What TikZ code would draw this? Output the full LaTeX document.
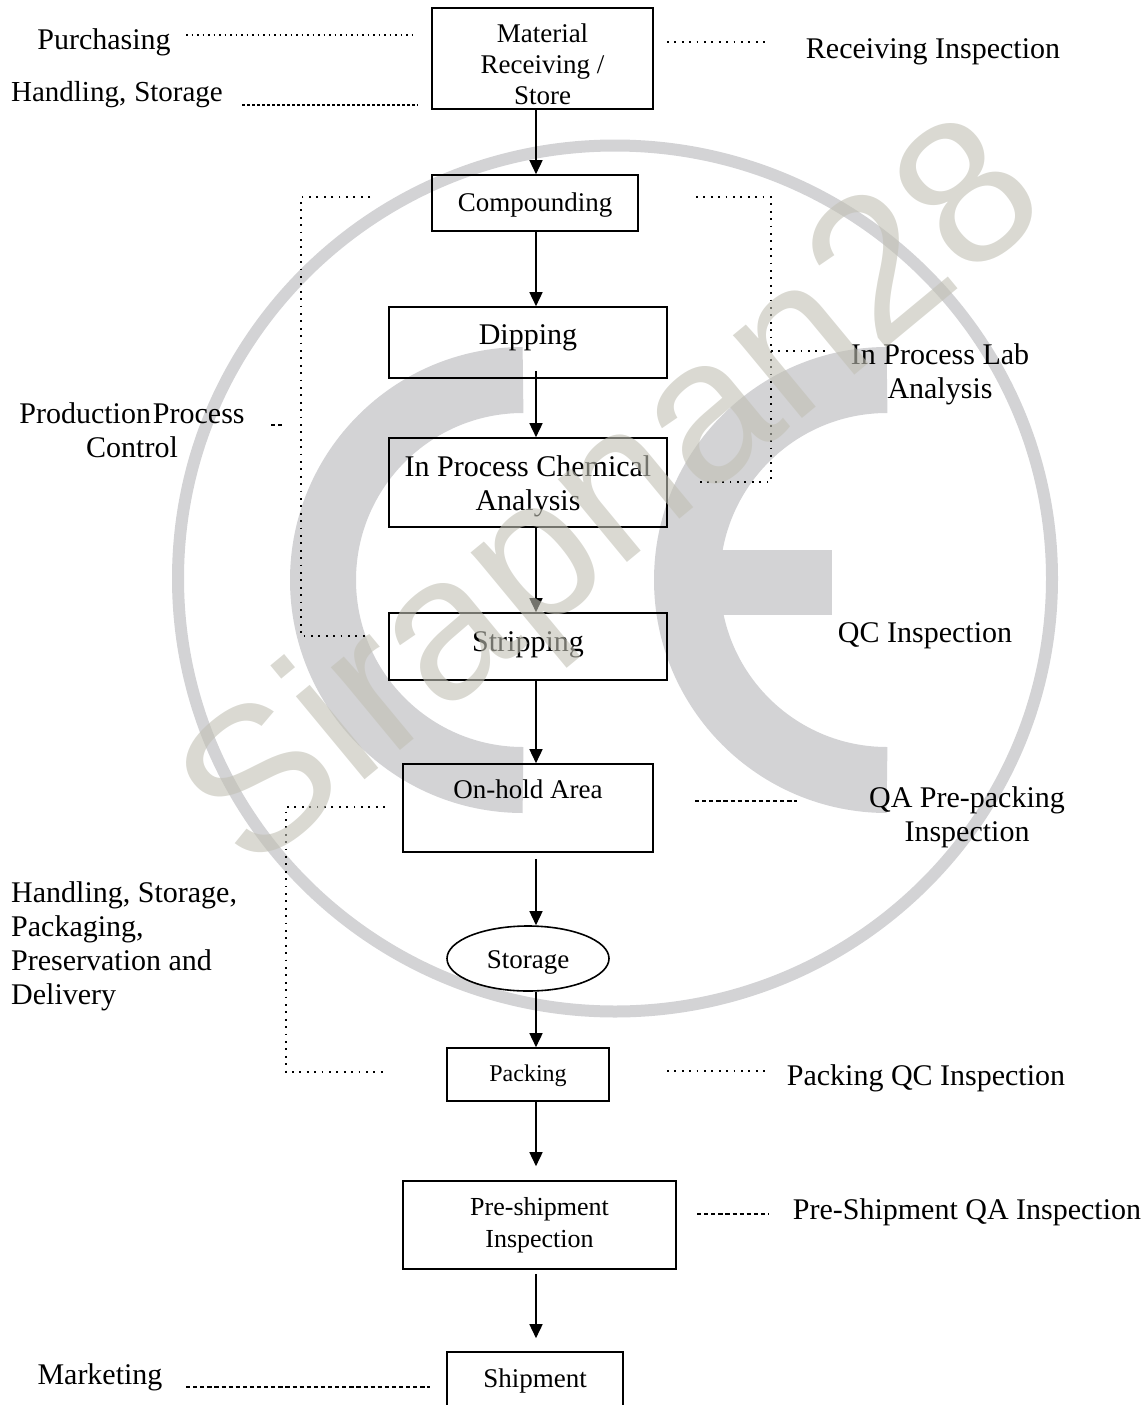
\documentclass[tikz,border=0pt]{standalone}
\usepackage{fontspec}
\setmainfont{Liberation Serif}
\newfontfamily\wmfont{Liberation Sans}
\usetikzlibrary{positioning,calc,shapes.geometric,arrows.meta}
\definecolor{wmgray}{RGB}{211,211,213}
\definecolor{wmtext}{RGB}{193,192,180}
\newcommand{\padtop}[1]{\rule{0pt}{#1}}
\newcommand{\padbot}[1]{\rule[-#1]{0pt}{1pt}}
\tikzset{
    flowchart/.style={
        x=1pt, y=-1pt,
        % Stile per i blocchi del processo
        procbox/.style={draw, line width=1.6pt, rectangle, align=center,
                        inner sep=0pt, font=\fontsize{27}{32}\selectfont},
        procoval/.style={draw, line width=1.6pt, ellipse, align=center,
                        inner sep=0pt, font=\fontsize{27}{32}\selectfont},
        % Stile per le etichette ai lati
        sidelabel/.style={align=center, inner sep=0pt,
                        font=\fontsize{30}{34}\selectfont},
        flowarrow/.style={line width=1.5pt, -{Triangle[length=14pt,width=13pt]}},
        dotlink/.style={line width=1.6pt, dash pattern=on 1.8pt off 5.6pt},
        finelink/.style={line width=1.4pt, dash pattern=on 1.6pt off 3.9pt},
        shortlink/.style={line width=1.4pt, dash pattern=on 3pt off 2pt},
        denselink/.style={line width=1.4pt, dash pattern=on 4.2pt off 2.9pt},
        wmline/.style={draw=wmgray, line cap=butt}
    }
}
\begin{document}
\begin{tikzpicture}[flowchart]
    \useasboundingbox (0,0) rectangle (1146,1405);
    % Marchio di fondo
    \draw[wmline, line width=12pt] (615,578.5) circle[x radius=437, y radius=433];
    \draw[wmline, line width=66pt] (523,380) arc[start angle=-90, end angle=-270, radius=200];
    \draw[wmline, line width=66pt] (887,380) arc[start angle=-90, end angle=-270, radius=200];
    \fill[wmgray] (700,550) rectangle (832,615);

    % Blocchi
    \node[procbox, minimum width=221pt, minimum height=101pt] (material) at (542.5,58.5) {\padtop{30.4pt}Material\\[-1pt]Receiving /\\[-1pt]Store};
    \node[procbox, minimum width=206pt, minimum height=56pt] (compound) at (535,203) {\padtop{22.4pt}Compounding};
    \node[procbox, minimum width=278pt, minimum height=71pt, font=\fontsize{30}{34}\selectfont] (dipping) at (528,342.5) {\padbot{16.5pt}Dipping};
    \node[procbox, minimum width=278pt, minimum height=89pt, font=\fontsize{30}{34}\selectfont] (chemical) at (528,482.5) {\padtop{28.5pt}In Process Chemical\\Analysis};
    \node[procbox, minimum width=278pt, minimum height=67pt, font=\fontsize{30}{34}\selectfont] (stripping) at (528,646.5) {\padbot{10.5pt}Stripping};
    \node[procbox, minimum width=250pt, minimum height=88pt] (onhold) at (528,808) {On-hold Area\\[6pt]\mbox{}};
    \node[procoval, minimum width=162pt, minimum height=65pt] (storage) at (528,958.5) {\padtop{26.3pt}Storage};
    \node[procbox, minimum width=162pt, minimum height=53pt, font=\fontsize{24}{28}\selectfont] (packing) at (528,1074.5) {\padtop{18.4pt}Packing};
    \node[procbox, minimum width=273pt, minimum height=88pt, font=\fontsize{26}{32}\selectfont] (preship) at (539.5,1225) {Pre-shipment\\Inspection};
    \node[procbox, minimum width=176pt, minimum height=56pt] (shipment) at (535,1380) {\padtop{20.4pt}Shipment};

    % Frecce
    \coordinate (axis) at (536,0);
    \draw[flowarrow] (material.south -| axis) -- (compound.north -| axis);
    \draw[flowarrow] (compound.south -| axis) -- (dipping.north -| axis);
    \draw[flowarrow, shorten <=-8pt] (dipping.south -| axis) -- (chemical.north -| axis);
    \draw[flowarrow] (chemical.south -| axis) -- (stripping.north -| axis);
    \draw[flowarrow] (stripping.south -| axis) -- (onhold.north -| axis);
    \draw[flowarrow, shorten <=6pt] (onhold.south -| axis) -- (storage.north -| axis);
    \draw[flowarrow] (storage.south -| axis) -- (packing.north -| axis);
    \draw[flowarrow, shorten >=14pt] (packing.south -| axis) -- (preship.north -| axis);
    \draw[flowarrow, shorten <=4pt, shorten >=13pt] (preship.south -| axis) -- (shipment.north -| axis);

    % Etichette
    \node[sidelabel] (purchasing) at (104,42) {Purchasing};
    \node[sidelabel, font=\fontsize{29}{34}\selectfont] (handling) at (117,95) {Handling,\hspace{8pt}Storage};
    \node[sidelabel] (receiving) at (933,52) {Receiving Inspection};
    \node[sidelabel] (lab) at (940,374) {In Process Lab\\Analysis};
    \node[sidelabel] (production) at (132,430) {Production\hspace{2pt}Process\\Control};
    \node[sidelabel] (qc) at (925,636) {QC Inspection};
    \node[sidelabel] (prepack) at (967,817) {QA Pre-packing\\Inspection};
    \node[sidelabel, align=left, anchor=west] (delivery) at (11,946) {Handling, Storage,\\Packaging,\\Preservation and\\Delivery};
    \node[sidelabel] (packqc) at (926,1078) {Packing QC Inspection};
    \node[sidelabel] (shipqa) at (967,1212) {Pre-Shipment QA Inspection};
    \node[sidelabel] (marketing) at (100,1377) {Marketing};

    % Linee punteggiate
    \coordinate (purchA) at (186,35);   \coordinate (purchB) at (413,35);
    \coordinate (handA) at (242,105);   \coordinate (handB) at (418,105);
    \coordinate (recvA) at (667,42);    \coordinate (recvB) at (765,42);
    \coordinate (ctrlA) at (370,197);   \coordinate (ctrlB) at (301,197);
    \coordinate (ctrlC) at (301,636);   \coordinate (ctrlD) at (370,636);
    \coordinate (labA) at (696,197);    \coordinate (labB) at (771,197);
    \coordinate (labC) at (771,482);    \coordinate (labD) at (696,482);
    \coordinate (labE) at (771,351);    \coordinate (labF) at (825,351);
    \coordinate (prodA) at (271,425);   \coordinate (prodB) at (284,425);
    \coordinate (qaA) at (695,801);     \coordinate (qaB) at (797,801);
    \coordinate (delivA) at (385,807);  \coordinate (delivB) at (286,807);
    \coordinate (delivC) at (286,1072); \coordinate (delivD) at (385,1072);
    \coordinate (packA) at (667,1071);  \coordinate (packB) at (765,1071);
    \coordinate (shipA) at (697,1214);  \coordinate (shipB) at (769,1214);
    \coordinate (markA) at (186,1387);  \coordinate (markB) at (430,1387);

    \draw[finelink] (purchA) -- (purchB);
    \draw[shortlink] (handA) -- (handB);
    \draw[dotlink] (recvA) -- (recvB);
    \draw[dotlink] (ctrlA) -- (ctrlB) -- (ctrlC) -- (ctrlD);
    \draw[dotlink] (labA) -- (labB) -- (labC) -- (labD);
    \draw[dotlink] (labE) -- (labF);
    \draw[denselink] (prodA) -- (prodB);
    \draw[denselink] (qaA) -- (qaB);
    \draw[dotlink] (delivA) -- (delivB) -- (delivC) -- (delivD);
    \draw[dotlink] (packA) -- (packB);
    \draw[denselink] (shipA) -- (shipB);
    \draw[denselink] (markA) -- (markB);

    % Scritta sopra a tutto
    \node[rotate=39.6, text=wmtext, text opacity=.6, inner sep=0pt,
          font=\wmfont\fontsize{204}{204}\selectfont] (wmark) at (618,502) {Sirapnan28};
\end{tikzpicture}
\end{document}
